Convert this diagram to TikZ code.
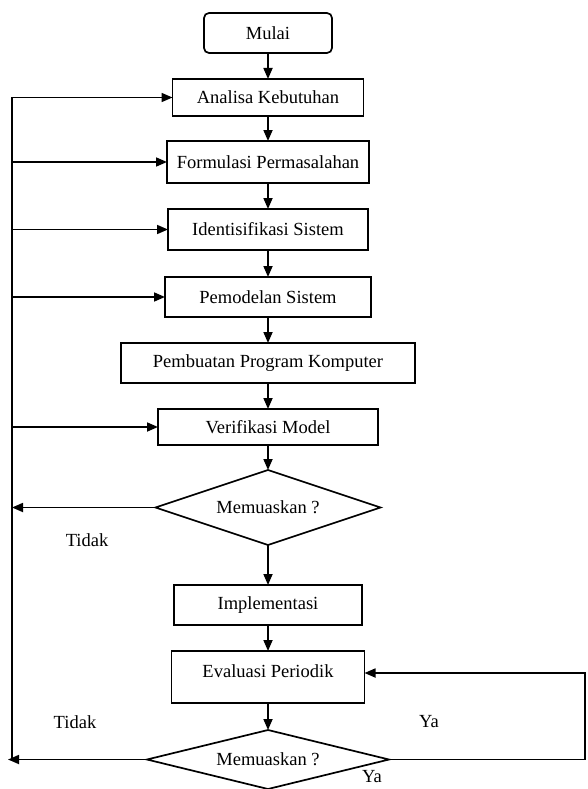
\documentclass[tikz,border=0pt]{standalone}
\usepackage{fontspec}
\setmainfont{Liberation Serif}
\usetikzlibrary{arrows.meta, positioning, shapes.geometric}
\tikzset{
    tnode/.style={rectangle, rounded corners=5pt, draw, line width=1.7pt, outer sep=0pt, minimum width=128pt, minimum height=40pt, font=\fontsize{18.5}{21}\selectfont},
    pnode/.style={rectangle, draw, line width=1.7pt, outer sep=0pt, minimum height=40pt, font=\fontsize{18.5}{21}\selectfont},
    dnode/.style={diamond, aspect=3, draw, line width=1.7pt, outer sep=0pt, inner sep=0pt, font=\fontsize{18.5}{21}\selectfont},
    lbl/.style={font=\fontsize{18.5}{21}\selectfont},
    flow/.style={draw, line width=1.7pt, -{Triangle[length=11pt, width=9pt]}},
}

\begin{document}
\begin{tikzpicture}[x=1pt, y=1pt]
    \useasboundingbox (0,0) rectangle (587,-789);
    \node[tnode] (mulai) at (268,-33) {Mulai};
    \node[pnode, minimum width=191pt, minimum height=37pt, below=26pt of mulai] (analisa) {Analisa Kebutuhan};
    \node[pnode, minimum width=202pt, minimum height=42pt, below=25pt of analisa] (formulasi) {Formulasi Permasalahan};
    \node[pnode, minimum width=200pt, minimum height=41pt, below=26pt of formulasi] (identifikasi) {Identisifikasi Sistem};
    \node[pnode, minimum width=206pt, below=27pt of identifikasi] (pemodelan) {Pemodelan Sistem};
    \node[pnode, minimum width=294pt, below=26pt of pemodelan] (pembuatan) {Pembuatan Program Komputer};
    \node[pnode, minimum width=220pt, minimum height=36pt, below=26pt of pembuatan] (verifikasi) {Verifikasi Model};
    \node[dnode, minimum width=225pt, minimum height=75pt, below=25pt of verifikasi] (cek1) {Memuaskan ?};
    \node[pnode, minimum width=188pt, below=40pt of cek1] (implementasi) {Implementasi};
    \node[pnode, minimum width=193pt, minimum height=52pt, text height=13pt, text depth=13pt, below=26pt of implementasi] (evaluasi) {Evaluasi Periodik};
    \node[dnode, minimum width=242pt, minimum height=59pt, below=27pt of evaluasi] (cek2) {Memuaskan ?};

    % labels
    \node[lbl] (tidak1) at (87,-540) {Tidak};
    \node[lbl] (tidak2) at (75,-722) {Tidak};
    \node[lbl] (ya1) at (429,-722) {Ya};
    \node[lbl] (ya2) at (372,-777) {Ya};

    % main flow
    \foreach \a/\b in {mulai/analisa, analisa/formulasi, formulasi/identifikasi, identifikasi/pemodelan,
        pemodelan/pembuatan, pembuatan/verifikasi, verifikasi/cek1, cek1/implementasi,
        implementasi/evaluasi, evaluasi/cek2}
        \draw[flow] (\a) -- (\b);

    % return lines
    \coordinate (rail) at (12,0);
    \coordinate (back) at (585,0);
    \draw[line width=1.7pt] (rail |- analisa.west) -- (rail |- cek2.west);
    \foreach \n in {analisa, formulasi, identifikasi, pemodelan, verifikasi}
        \draw[flow] (rail |- \n.west) -- (\n.west);
    \draw[flow] (cek1.west) -- (rail |- cek1.west);
    \draw[flow] (cek2.west) -- ([xshift=-4pt]rail |- cek2.west);
    \draw[flow] (cek2.east) -- (back |- cek2.east) |- ([yshift=4pt]evaluasi.east);
\end{tikzpicture}
\end{document}
